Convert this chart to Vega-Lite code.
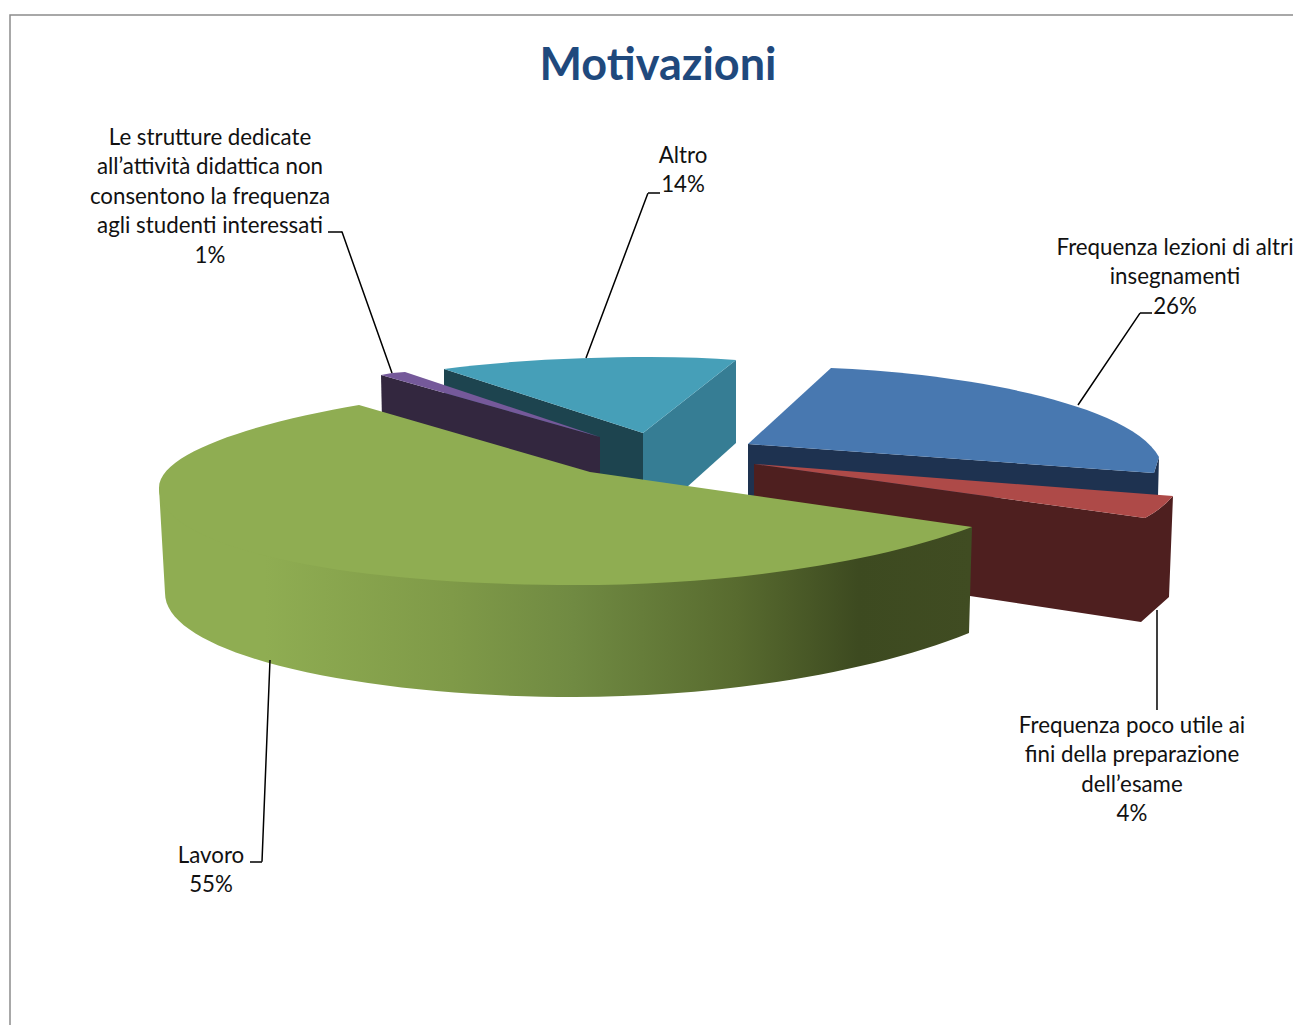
{"$schema":"https://vega.github.io/schema/vega-lite/v6.json","width":1290,"height":1015,"autosize":"none","padding":{"left":10,"top":15,"right":0,"bottom":0},"background":"white",
"view":{"stroke":"#8c8c8c","strokeWidth":1.5},
"title":{"text":"Motivazioni","anchor":"middle","frame":"group","offset":-110,"dx":3,"baseline":"alphabetic","font":"Lato","fontWeight":"bold","fontSize":45,"color":"#1F497D"},
"data":{"values":[
{"motivo":"Frequenza lezioni di altri\ninsegnamenti","share":26,"k":"b"},
{"motivo":"Frequenza poco utile ai\nfini della preparazione\ndell’esame","share":4,"k":"r"},
{"motivo":"Lavoro","share":55,"k":"g"},
{"motivo":"Le strutture dedicate\nall’attività didattica non\nconsentono la frequenza\nagli studenti interessati","share":1,"k":"p"},
{"motivo":"Altro","share":14,"k":"t"}]},
"transform":[{"calculate":"datum.motivo+'\\n'+datum.share+'%'","as":"lab"}],
"layer":[
{"transform":[{"filter":"datum.k=='t'"}],"layer":[
{"mark":{"type":"point","filled":true,"opacity":1,"size":4,"xOffset":-655,"yOffset":-522.5,"fill":"#1D444F","shape":"M444,369 L643,433 L643,490 L444,425 Z"}},
{"mark":{"type":"point","filled":true,"opacity":1,"size":4,"xOffset":-655,"yOffset":-522.5,"fill":"#367D94","shape":"M643,433 L736,360 L736,443 L687,487 L643,490 Z"}},
{"mark":{"type":"point","filled":true,"opacity":1,"size":4,"xOffset":-655,"yOffset":-522.5,"fill":"#469FB8","shape":"M444,369 C510,360 590,357 650,357 Q700,357 736,360 L643,433 Z"}}]},
{"transform":[{"filter":"datum.k=='p'"}],"layer":[
{"mark":{"type":"point","filled":true,"opacity":1,"size":4,"xOffset":-655,"yOffset":-522.5,"fill":"#33273F","shape":"M381,375 L600,437 L600,480 L382,420 Z"}},
{"mark":{"type":"point","filled":true,"opacity":1,"size":4,"xOffset":-655,"yOffset":-522.5,"fill":"#75599A","shape":"M381,375 L392,373 L405,372 L600,437 Z"}}]},
{"transform":[{"filter":"datum.k=='b'"}],"layer":[
{"mark":{"type":"point","filled":true,"opacity":1,"size":4,"xOffset":-655,"yOffset":-522.5,"fill":"#1E3250","shape":"M748,444 L1154,473 L1159,457 L1158,496 L748,500 Z"}},
{"mark":{"type":"point","filled":true,"opacity":1,"size":4,"xOffset":-655,"yOffset":-522.5,"fill":"#4878B0","shape":"M748,444 L831,368 C945,372 1128,400 1159,457 L1154,473 Z"}}]},
{"transform":[{"filter":"datum.k=='r'"}],"layer":[
{"mark":{"type":"point","filled":true,"opacity":1,"size":4,"xOffset":-655,"yOffset":-522.5,"fill":"#4E1F1F","shape":"M754,464 L1145,518 Q1162,509 1173,496 L1169,597 L1141,622 L970,596 L754,563 Z"}},
{"mark":{"type":"point","filled":true,"opacity":1,"size":4,"xOffset":-655,"yOffset":-522.5,"fill":"#AE4A48","shape":"M754,464 L1173,496 Q1162,509 1145,518 Z"}}]},
{"transform":[{"filter":"datum.k=='g'"}],"layer":[
{"mark":{"type":"point","filled":true,"opacity":1,"size":4,"xOffset":-655,"yOffset":-522.5,"fill":{"gradient":"linear","x1":0,"x2":1,"y1":0,"y2":0,"stops":[{"offset":0,"color":"#8FAD52"},{"offset":0.13,"color":"#8FAD52"},{"offset":0.36,"color":"#7F9A48"},{"offset":0.51,"color":"#708A42"},{"offset":0.71,"color":"#586B2F"},{"offset":0.86,"color":"#3D4A20"},{"offset":1,"color":"#404C22"}]},"shape":"M159,488 L300,480 L972,527 L969,633 C870,673 720,697 575,697 C360,697 165,655 165,593 Z"}},
{"mark":{"type":"point","filled":true,"opacity":1,"size":4,"xOffset":-655,"yOffset":-522.5,"fill":"#8FAD52","shape":"M590,472 L359,405 C270,420 159,450 159,488 C159,550 350,585 575,585 C720,585 870,565 972,527 Z"}}]},
{"transform":[{"filter":"datum.k=='b'"}],"layer":[
{"mark":{"type":"arc","fill":null,"stroke":"#000000","strokeWidth":1.5,"theta":0.5933,"theta2":0.5933,"radius":110.9,"xOffset":423,"yOffset":-117.5}},
{"mark":{"type":"arc","fill":null,"stroke":"#000000","strokeWidth":1.5,"theta":1.5708,"theta2":1.5708,"radius":12,"xOffset":485,"yOffset":-209.5}},
{"mark":{"type":"arc","fill":null,"stroke":"#000000","strokeWidth":1.5,"theta":3.1416,"theta2":3.1416,"radius":100,"xOffset":502,"yOffset":87.5}},
{"mark":{"type":"arc","fill":null,"stroke":"#000000","strokeWidth":1.5,"theta":3.1812,"theta2":3.1812,"radius":202,"xOffset":-385,"yOffset":137.5}},
{"mark":{"type":"arc","fill":null,"stroke":"#000000","strokeWidth":1.5,"theta":4.7124,"theta2":4.7124,"radius":12,"xOffset":-393,"yOffset":339.5}},
{"mark":{"type":"arc","fill":null,"stroke":"#000000","strokeWidth":1.5,"theta":5.9425,"theta2":5.9425,"radius":150,"xOffset":-263,"yOffset":-149.5}},
{"mark":{"type":"arc","fill":null,"stroke":"#000000","strokeWidth":1.5,"theta":4.7124,"theta2":4.7124,"radius":14,"xOffset":-313,"yOffset":-290.5}},
{"mark":{"type":"arc","fill":null,"stroke":"#000000","strokeWidth":1.5,"theta":0.3594,"theta2":0.3594,"radius":176,"xOffset":-69,"yOffset":-164.5}},
{"mark":{"type":"arc","fill":null,"stroke":"#000000","strokeWidth":1.5,"theta":1.5708,"theta2":1.5708,"radius":12,"xOffset":-7,"yOffset":-329.5}}]},
{"encoding":{"text":{"field":"lab"}},"layer":[
{"transform":[{"filter":"datum.k=='b'"}],"mark":{"type":"text","font":"Lato","fontSize":22.3,"lineHeight":29.5,"lineBreak":"\n","color":"#111111","xOffset":520,"yOffset":-275}},
{"transform":[{"filter":"datum.k=='r'"}],"mark":{"type":"text","font":"Lato","fontSize":22.3,"lineHeight":29.5,"lineBreak":"\n","color":"#111111","xOffset":477,"yOffset":203}},
{"transform":[{"filter":"datum.k=='g'"}],"mark":{"type":"text","font":"Lato","fontSize":22.3,"lineHeight":29.5,"lineBreak":"\n","color":"#111111","xOffset":-444,"yOffset":333}},
{"transform":[{"filter":"datum.k=='p'"}],"mark":{"type":"text","font":"Lato","fontSize":22.3,"lineHeight":29.5,"lineBreak":"\n","color":"#111111","xOffset":-445,"yOffset":-385}},
{"transform":[{"filter":"datum.k=='t'"}],"mark":{"type":"text","font":"Lato","fontSize":22.3,"lineHeight":29.5,"lineBreak":"\n","color":"#111111","xOffset":28,"yOffset":-367}}]}
]}
